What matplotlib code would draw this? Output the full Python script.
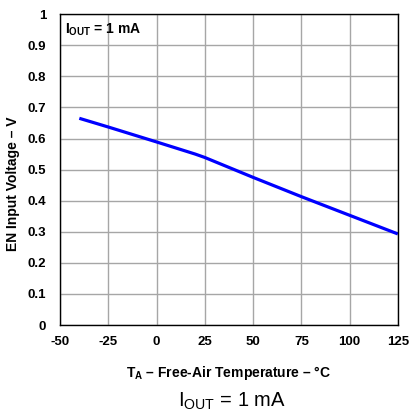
import matplotlib
matplotlib.use("Agg")
import matplotlib.pyplot as plt

plt.rcParams['font.family'] = ['Liberation Sans', 'DejaVu Sans']
plt.rcParams['mathtext.fontset'] = 'custom'
plt.rcParams['mathtext.rm'] = 'Liberation Sans'
plt.rcParams['mathtext.bf'] = 'Liberation Sans:bold'
plt.rcParams['axes.unicode_minus'] = False

# EN input voltage vs temperature
temp_c = [-40, -25, 0, 20, 25, 50, 75, 100, 125]
en_volts = [0.665, 0.637, 0.589, 0.550, 0.539, 0.475, 0.413, 0.353, 0.293]

x_ticks = [-50, -25, 0, 25, 50, 75, 100, 125]
y_ticks = [0, 0.1, 0.2, 0.3, 0.4, 0.5, 0.6, 0.7, 0.8, 0.9, 1]
y_tick_labels = ['0', '0.1', '0.2', '0.3', '0.4', '0.5', '0.6', '0.7', '0.8', '0.9', '1']


def main():
    fig = plt.figure(figsize=(4.11, 4.17), dpi=100)
    ax = fig.add_axes([0.146, 0.2206, 0.822, 0.7454])

    ax.plot(temp_c, en_volts, color='#0000ff', linewidth=2.3, solid_capstyle='butt')

    ax.set_xlim(-50, 125)
    ax.set_ylim(0, 1)
    ax.set_xticks(x_ticks)
    ax.set_yticks(y_ticks)
    ax.set_yticklabels(y_tick_labels)
    ax.tick_params(length=0, labelsize=9.5)
    ax.tick_params(axis='y', pad=10)
    ax.tick_params(axis='x', pad=8)
    for lbl in ax.get_xticklabels() + ax.get_yticklabels():
        lbl.set_fontweight('bold')
    ax.grid(True, color='#a6a6a6', linewidth=1.0)
    ax.set_axisbelow(True)
    for sp in ax.spines.values():
        sp.set_color('black')
        sp.set_linewidth(1.0)

    ax.set_xlabel(r'$\mathbf{T_A}$ – Free-Air Temperature – °C',
                  fontsize=10, fontweight='bold')
    ax.xaxis.set_label_coords(0.5, -0.125)
    ax.set_ylabel('EN Input Voltage – V', fontsize=10, fontweight='bold')
    ax.yaxis.set_label_coords(-0.118, 0.453)

    ax.text(0.015, 0.949, r'$\mathbf{I_{OUT}}$ = 1 mA', transform=ax.transAxes,
            fontsize=10, fontweight='bold', va='center', ha='left')

    fig.text(232 / 411, 1 - 401 / 417, r'$\mathrm{I_{OUT}}$ = 1 mA',
             fontsize=14.5, ha='center', va='center')

    fig.savefig('out.png', dpi=100)
    plt.close(fig)


if __name__ == "__main__":
    main()
